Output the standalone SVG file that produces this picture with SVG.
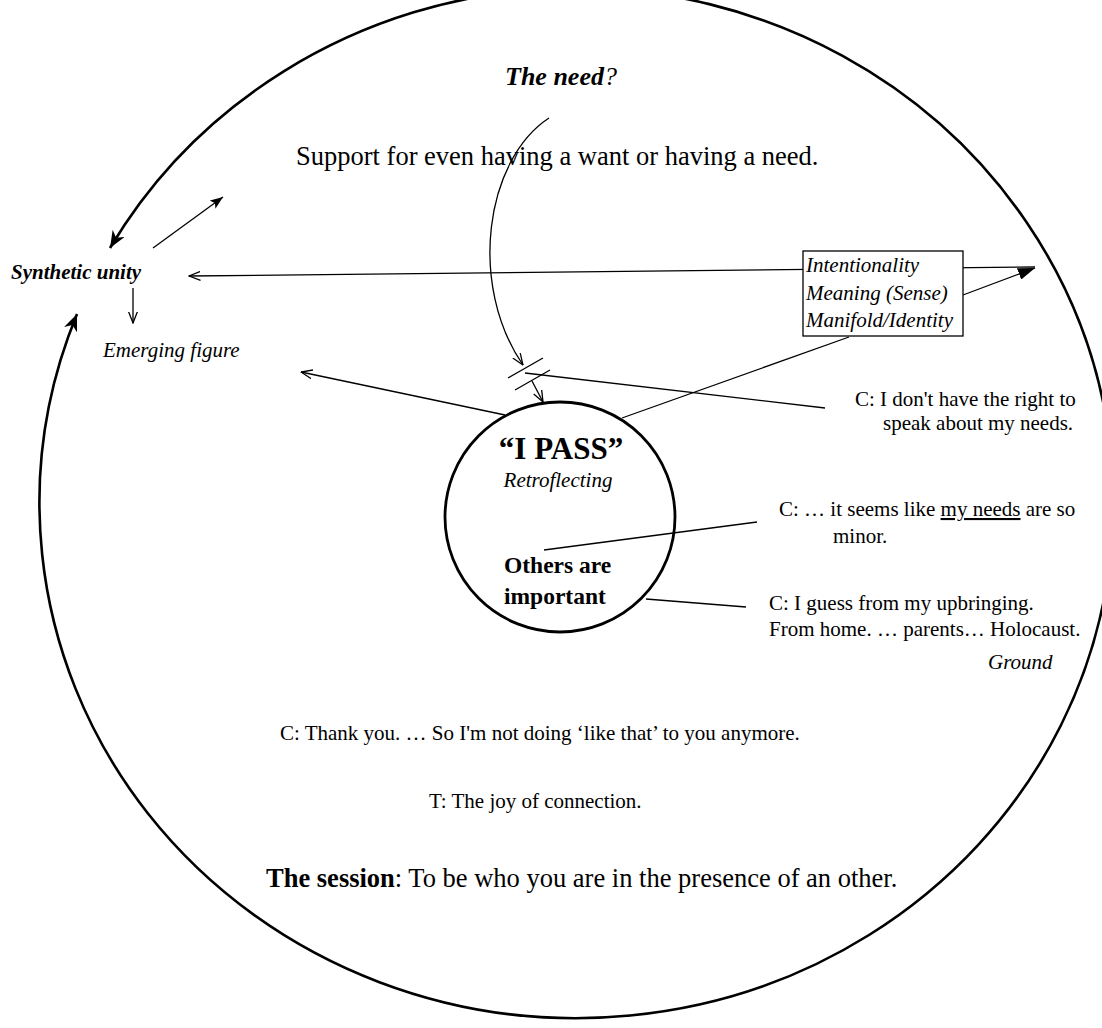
<svg xmlns="http://www.w3.org/2000/svg" width="1102" height="1028" viewBox="0 0 1102 1028">
<style>
text{font-family:"Liberation Serif","Times New Roman",serif;fill:#000}
.t21{font-size:21px}
.it{font-style:italic}
.bd{font-weight:bold}
.ln{stroke:#000;stroke-width:1.3;fill:none}
.thick{stroke:#000;stroke-width:2.6;fill:none}
</style>
<defs>
<marker id="vopen" markerUnits="userSpaceOnUse" viewBox="0 0 12 10" refX="11.5" refY="5" markerWidth="12" markerHeight="10" orient="auto">
<path d="M0,0.5 L11.5,5 L0,9.5" fill="none" stroke="#000" stroke-width="1.3"/>
</marker>
<marker id="barb" markerUnits="userSpaceOnUse" viewBox="0 0 18 14" refX="17" refY="7" markerWidth="18" markerHeight="14" orient="auto-start-reverse">
<path d="M0,0 L17,7 L0,14 L5,7 z" fill="#000"/>
</marker>
<marker id="sbarb" markerUnits="userSpaceOnUse" viewBox="0 0 14 10" refX="13" refY="5" markerWidth="14" markerHeight="10" orient="auto">
<path d="M0,0 L13,5 L0,10 L3,5 z" fill="#000"/>
</marker>
<marker id="tri" markerUnits="userSpaceOnUse" viewBox="0 0 18 12" refX="17" refY="6" markerWidth="18" markerHeight="12" orient="auto">
<path d="M0,0 L17,6 L0,12 z" fill="#000"/>
</marker>
</defs>
<rect width="1102" height="1028" fill="#fff"/>

<g id="connectors">
<!-- big circle (ground) with arrow ends at the gap -->
<path class="thick" d="M77,314 A537,515 0 1 0 110,248" marker-start="url(#barb)" marker-end="url(#barb)"/>
<!-- small arrow up-right from synthetic unity -->
<line class="ln" x1="153" y1="248" x2="223" y2="197" marker-end="url(#sbarb)"/>
<!-- down arrow to emerging figure -->
<line class="ln" x1="133" y1="288" x2="133" y2="323" marker-end="url(#vopen)"/>
<!-- long arrow from circle edge through box to synthetic unity -->
<line class="ln" x1="1035" y1="267" x2="189" y2="276" marker-end="url(#vopen)"/>
<!-- arrow from box to circle edge -->
<line class="ln" x1="963" y1="295" x2="1035" y2="268" marker-end="url(#tri)"/>
<!-- line from I PASS to box -->
<line class="ln" x1="622" y1="418" x2="849" y2="337"/>
<!-- curved arrow from the need -->
<path class="ln" d="M549,118 C485,160 468,285 523,365" marker-end="url(#vopen)"/>
<!-- interruption marks -->
<line class="ln" x1="508" y1="378" x2="543" y2="358"/>
<line class="ln" x1="515" y1="390" x2="550" y2="370"/>
<!-- line from interruption to C: I don't have -->
<line class="ln" x1="525" y1="373" x2="825" y2="408"/>
<!-- arrow from interruption to I PASS -->
<line class="ln" x1="532" y1="381" x2="543" y2="402" marker-end="url(#vopen)"/>
<!-- arrow from I PASS to emerging figure -->
<line class="ln" x1="505" y1="415" x2="301" y2="372" marker-end="url(#vopen)"/>
<!-- line inside circle to it seems -->
<line class="ln" x1="544" y1="550" x2="757" y2="522"/>
<!-- line to I guess -->
<line class="ln" x1="646" y1="599" x2="746" y2="607"/>
</g>

<g id="the-need">
<text x="505" y="85" style="font-size:26px"><tspan class="bd it">The need</tspan><tspan class="it">?</tspan></text>
</g>
<g id="support">
<text x="296" y="165" style="font-size:26.5px">Support for even having a want or having a need.</text>
</g>
<g id="synthetic-unity">
<text x="11" y="279" class="t21 bd it">Synthetic unity</text>
</g>
<g id="emerging-figure">
<text x="103" y="357" class="t21 it">Emerging figure</text>
</g>
<g id="intentionality-box">
<rect x="803" y="251" width="160" height="85" fill="#fff" stroke="#000" stroke-width="1.3"/>
<text x="806" y="272" class="t21 it">Intentionality</text>
<text x="806" y="300" class="t21 it">Meaning (Sense)</text>
<text x="806" y="327" class="t21 it">Manifold/Identity</text>
</g>
<g id="i-pass">
<circle cx="560" cy="517" r="115" fill="none" stroke="#000" stroke-width="2.8"/>
<text x="561" y="459" text-anchor="middle" class="bd" style="font-size:31px">“I PASS”</text>
<text x="558" y="487" text-anchor="middle" class="t21 it">Retroflecting</text>
<text x="504" y="573" class="bd" style="font-size:23.5px">Others are</text>
<text x="504" y="604" class="bd" style="font-size:23.5px">important</text>
</g>
<g id="c-right">
<text x="855" y="406" class="t21">C: I don't have the right to</text>
<text x="883" y="430" class="t21">speak about my needs.</text>
</g>
<g id="c-minor">
<text x="779" y="516" class="t21">C: … it seems like <tspan text-decoration="underline">my needs</tspan> are so</text>
<text x="833" y="543" class="t21">minor.</text>
</g>
<g id="c-upbringing">
<text x="769" y="610" class="t21">C: I guess from my upbringing.</text>
<text x="769" y="636" class="t21">From home. … parents… Holocaust.</text>
</g>
<g id="ground">
<text x="988" y="669" class="t21 it">Ground</text>
</g>
<g id="c-thank">
<text x="280" y="740" class="t21">C: Thank you. … So I'm not doing ‘like that’ to you anymore.</text>
</g>
<g id="t-joy">
<text x="429" y="808" class="t21">T: The joy of connection.</text>
</g>
<g id="session">
<text x="266" y="887" style="font-size:26.5px"><tspan class="bd">The session</tspan>: To be who you are in the presence of an other.</text>
</g>
</svg>
